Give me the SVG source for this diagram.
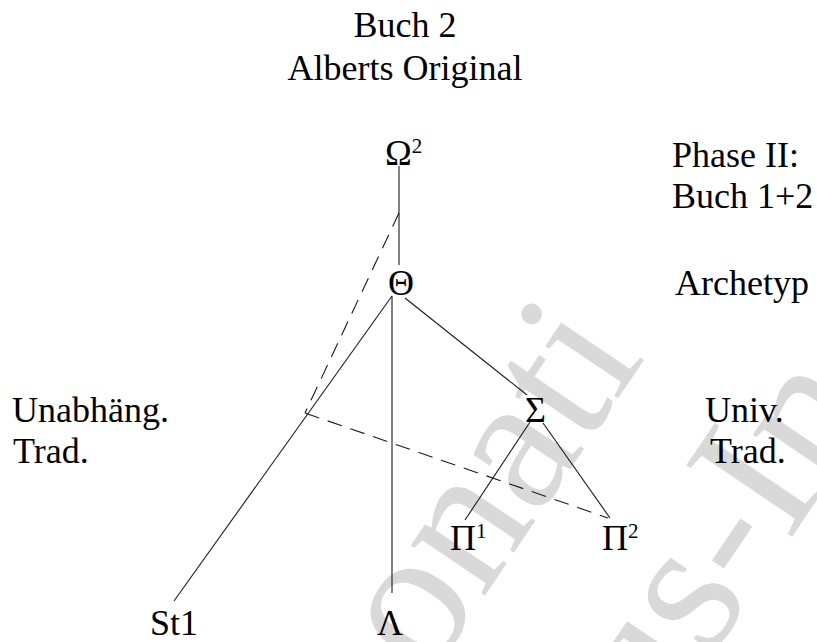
<svg xmlns="http://www.w3.org/2000/svg" width="817" height="642" viewBox="0 0 817 642">
  <style>
    text { font-family: "Liberation Serif", "Times New Roman", serif; font-size: 36px; fill: #000; }
    .sup { font-size: 21px; }
    .wm { font-size: 195px; fill: #d9d9d9; }
    .edge { stroke: #1a1a1a; stroke-width: 1.1; fill: none; }
    .dash { stroke-dasharray: 15 9; }
  </style>
  <rect width="817" height="642" fill="#fff"/>

  <!-- background watermark -->
  <g id="watermark">
    <text class="wm" x="428" y="680" transform="rotate(-56 428 680)">onati</text>
    <text class="wm" x="655" y="740" transform="rotate(-56 655 740)">us-In</text>
  </g>

  <!-- side captions -->
  <g id="title">
    <text x="405" y="37" text-anchor="middle">Buch 2</text>
    <text x="405" y="80" text-anchor="middle">Alberts Original</text>
  </g>
  <g id="phase">
    <text x="672" y="167">Phase II:</text>
    <text x="672" y="208">Buch 1+2</text>
  </g>
  <g id="archetyp-label">
    <text x="675" y="295">Archetyp</text>
  </g>
  <g id="unabh-label">
    <text x="12" y="422">Unabhäng.</text>
    <text x="13" y="463">Trad.</text>
  </g>
  <g id="univ-label">
    <text x="705" y="422">Univ.</text>
    <text x="710" y="463">Trad.</text>
  </g>

  <!-- stemma connectors -->
  <g id="connectors">
    <line class="edge" x1="399" y1="166" x2="399" y2="265"/>
    <line class="edge dash" x1="399" y1="213" x2="305" y2="413"/>
    <line class="edge" x1="392" y1="296" x2="174" y2="601"/>
    <line class="edge" x1="392" y1="296" x2="392" y2="593"/>
    <line class="edge" x1="405" y1="298" x2="527" y2="395"/>
    <line class="edge dash" x1="305" y1="413" x2="608" y2="518"/>
    <line class="edge" x1="530" y1="422" x2="465" y2="520"/>
    <line class="edge" x1="543" y1="423" x2="610" y2="518"/>
  </g>

  <!-- witnesses -->
  <g id="omega2"><text x="385" y="165">Ω<tspan class="sup" dy="-12">2</tspan></text></g>
  <g id="theta"><text x="388" y="295">Θ</text></g>
  <g id="sigma"><text x="525" y="422">Σ</text></g>
  <g id="pi1"><text x="450" y="550">Π<tspan class="sup" dy="-12">1</tspan></text></g>
  <g id="pi2"><text x="602" y="550">Π<tspan class="sup" dy="-12">2</tspan></text></g>
  <g id="st1"><text x="150" y="635">St1</text></g>
  <g id="lambda"><text x="377" y="635">Λ</text></g>
</svg>
